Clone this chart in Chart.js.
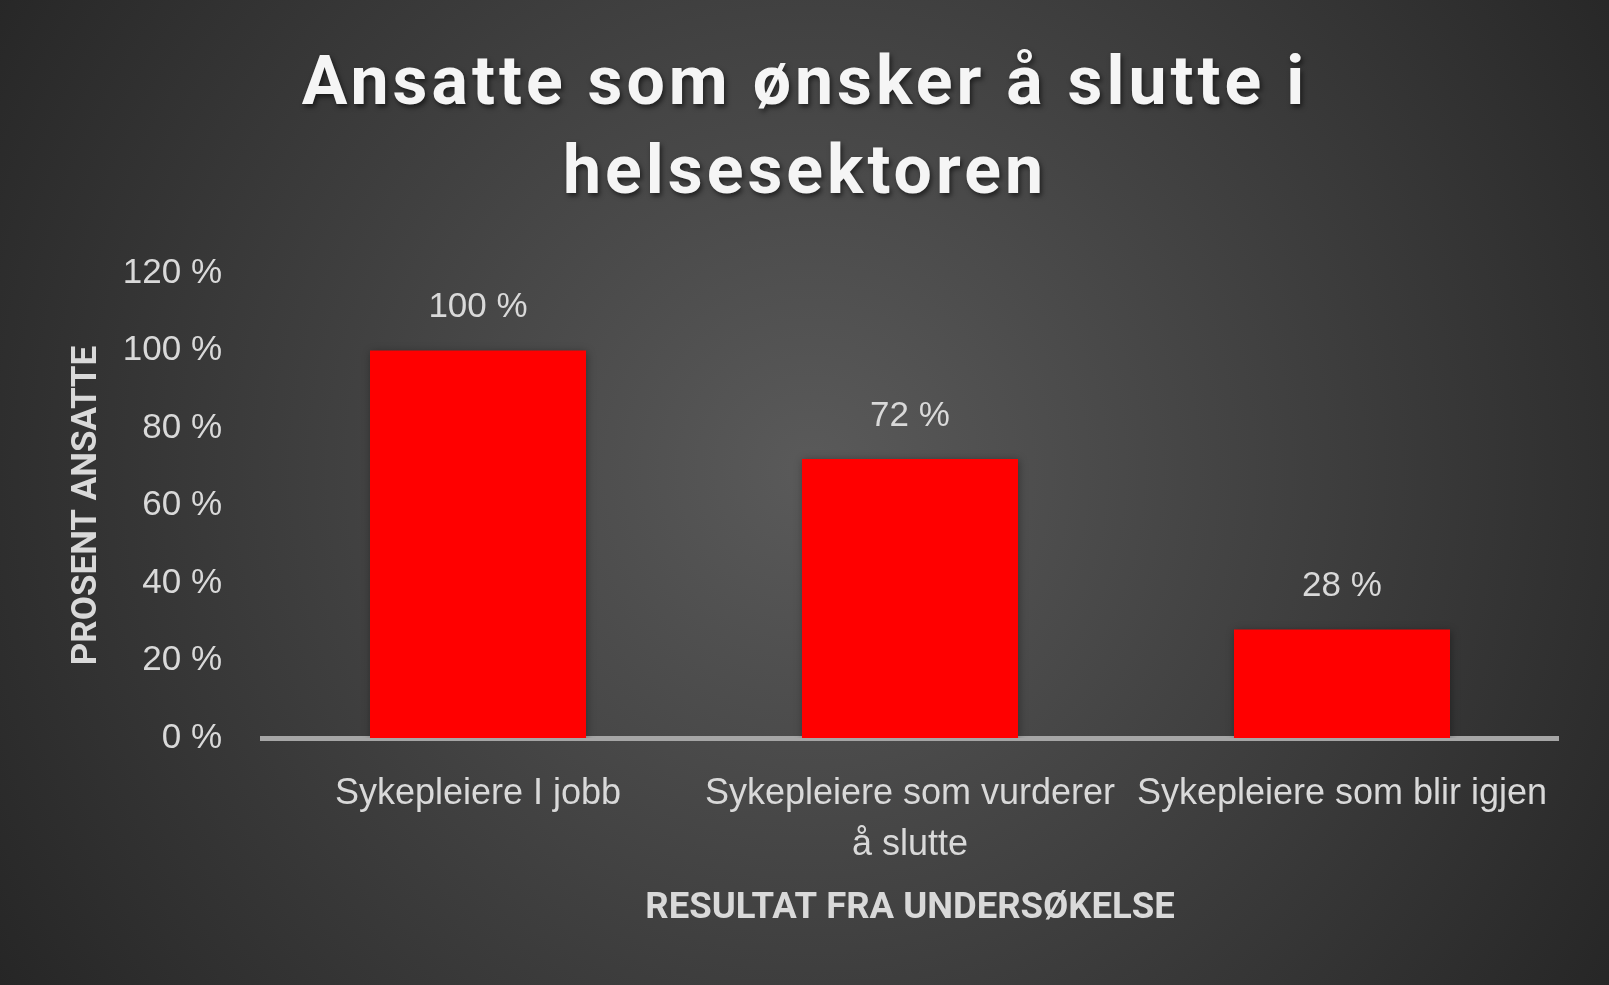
<!DOCTYPE html>
<html><head><meta charset="utf-8">
<script src="https://cdn.jsdelivr.net/npm/chart.js@4"></script>
<style>html,body{margin:0;padding:0;background:#2a2a2a;overflow:hidden}#wrap{width:1609px;height:985px}</style>
</head><body><div id="wrap"><canvas id="c" width="1609" height="985"></canvas></div>
<script>
const titleLines = ['Ansatte som ønsker å slutte i', 'helsesektoren'];
const categories = ['Sykepleiere I jobb', ['Sykepleiere som vurderer', 'å slutte'], 'Sykepleiere som blir igjen'];
const values = [100, 72, 28];
const yMin = 0, yMax = 120, yStep = 20;
const xAxisTitle = 'RESULTAT FRA UNDERSØKELSE';
const yAxisTitle = 'PROSENT ANSATTE';
const pct = v => v + ' %';

const narrow = '"Liberation Sans Narrow", "Roboto", "Liberation Sans", sans-serif';
const regular = '"Liberation Sans", Arial, sans-serif';
const labelColor = '#d9d9d9';

const bgPlugin = {
  id: 'bg',
  beforeDraw(chart) {
    const ctx = chart.ctx, w = chart.width, h = chart.height;
    ctx.save();
    const g = ctx.createRadialGradient(810, 470, 0, 810, 470, 960);
    g.addColorStop(0, '#5a5a5a');
    g.addColorStop(1, '#262626');
    ctx.fillStyle = g;
    ctx.fillRect(0, 0, w, h);
    ctx.restore();
  }
};

const titlePlugin = {
  id: 'bigTitle',
  afterDraw(chart) {
    const ctx = chart.ctx;
    ctx.save();
    ctx.font = 'bold 68px Roboto, "Liberation Sans", sans-serif';
    ctx.letterSpacing = '4px';
    ctx.textAlign = 'center';
    ctx.textBaseline = 'alphabetic';
    ctx.fillStyle = '#f5f5f5';
    ctx.shadowColor = 'rgba(0,0,0,0.55)';
    ctx.shadowBlur = 5;
    ctx.shadowOffsetX = 2;
    ctx.shadowOffsetY = 3;
    const baselines = [104, 193];
    titleLines.forEach((t, i) => ctx.fillText(t, 805, baselines[i]));
    ctx.restore();
  }
};

const barPlugin = {
  id: 'barDeco',
  beforeDatasetsDraw(chart) {
    const ctx = chart.ctx;
    ctx.save();
    ctx.shadowColor = 'rgba(0,0,0,0.35)';
    ctx.shadowBlur = 8;
    ctx.shadowOffsetX = 1;
    ctx.shadowOffsetY = 1;
  },
  afterDatasetsDraw(chart) {
    const ctx = chart.ctx;
    ctx.restore();
    ctx.save();
    ctx.font = '35px ' + regular;
    ctx.fillStyle = labelColor;
    ctx.textAlign = 'center';
    ctx.textBaseline = 'middle';
    const meta = chart.getDatasetMeta(0);
    meta.data.forEach((el, i) => {
      ctx.fillText(pct(values[i]), el.x, el.y - 43);
    });
    ctx.restore();
  }
};

new Chart(document.getElementById('c'), {
  type: 'bar',
  data: {
    labels: categories,
    datasets: [{
      data: values,
      backgroundColor: '#ff0000',
      borderWidth: 0,
      categoryPercentage: 1.0,
      barPercentage: 0.5
    }]
  },
  options: {
    responsive: false,
    animation: false,
    devicePixelRatio: 1,
    layout: { padding: { top: 273, right: 51, bottom: 54, left: 0 } },
    plugins: {
      legend: { display: false },
      tooltip: { enabled: false },
      title: { display: false }
    },
    scales: {
      x: {
        grid: { display: false },
        border: { display: true, color: '#a6a6a6', width: 5 },
        ticks: {
          color: labelColor,
          font: { family: regular, size: 36, lineHeight: 1.4 },
          padding: 23,
          maxRotation: 0,
          autoSkip: false
        },
        title: {
          display: true,
          text: xAxisTitle,
          color: labelColor,
          font: { family: narrow, size: 36.5, weight: 'bold', lineHeight: 1.2 },
          padding: { top: 0, bottom: 0 }
        },
        afterFit(scale) { scale.height = 193; }
      },
      y: {
        min: yMin,
        max: yMax,
        grid: { display: false },
        border: { display: false },
        ticks: {
          stepSize: yStep,
          color: labelColor,
          font: { family: regular, size: 35 },
          padding: 32,
          callback: v => pct(v)
        },
        title: {
          display: true,
          text: yAxisTitle,
          color: labelColor,
          font: { family: narrow, size: 35, weight: 'bold', lineHeight: 1.2 },
          padding: { top: 66, bottom: 0 }
        },
        afterFit(scale) { scale.width = 262; }
      }
    }
  },
  plugins: [bgPlugin, barPlugin, titlePlugin]
});
</script>
</body></html>
